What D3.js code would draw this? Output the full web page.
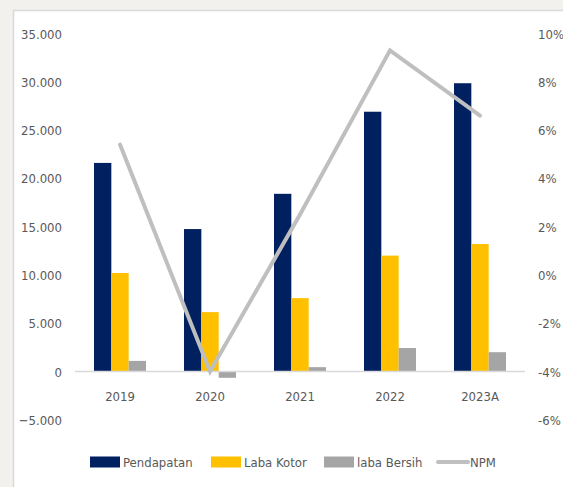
<!DOCTYPE html>
<html>
<head>
<meta charset="utf-8">
<script src="https://cdn.jsdelivr.net/npm/d3@7"></script>
<style>
  body { margin: 0; background: #f2f1ee; }
  #chart { width: 563px; height: 487px; }
  text { font-family: "Liberation Sans Narrow", "DejaVu Sans Condensed", sans-serif; fill: #595959; }
</style>
</head>
<body>
<div id="chart"></div>
<script>
// data
var years = ["2019", "2020", "2021", "2022", "2023A"];
var pendapatan = [21600, 14750, 18400, 26900, 29850];
var labaKotor = [10200, 6150, 7600, 12000, 13200];
var labaBersih = [1100, -650, 450, 2430, 2000];
var npm = [5.4, -4.0, 2.5, 9.3, 6.6];
var leftTicks = [-5000, 0, 5000, 10000, 15000, 20000, 25000, 30000, 35000];
var rightTicks = [-6, -4, -2, 0, 2, 4, 6, 8, 10];

var w = 563;
var h = 487;
var fontSize = "13px";

var svg = d3.select("#chart")
            .append("svg")
            .attr("width", w)
            .attr("height", h);

// white panel with light border
svg.append("rect")
   .attr("x", 13.5)
   .attr("y", 10.5)
   .attr("width", w)
   .attr("height", h)
   .attr("fill", "white")
   .attr("stroke", "#d9d9d9")
   .attr("stroke-width", 1.5);

var x = d3.scaleBand()
          .domain(years)
          .range([75, 525]);

var inner = d3.scaleBand()
              .domain(["p", "k", "b"])
              .range([0, 52]);

var y = d3.scaleLinear()
          .domain([-5000, 35000])
          .range([419.8, 33.5]);

var y2 = d3.scaleLinear()
           .domain([-6, 10])
           .range([419.8, 33.5]);

var fmt = function(d) {
    return d3.format(",")(d).replace(/,/g, ".");
};

// left axis labels
var leftAxis = svg.append("g")
   .attr("transform", "translate(62,0)")
   .call(d3.axisLeft(y).tickValues(leftTicks).tickFormat(fmt).tickSize(0).tickPadding(0));
leftAxis.select(".domain").remove();
leftAxis.selectAll("text").style("font-size", fontSize).attr("dy", "0.35em");

// right axis labels
var rightAxis = svg.append("g")
   .attr("transform", "translate(538,0)")
   .call(d3.axisRight(y2).tickValues(rightTicks).tickFormat(function(d){ return d + "%"; }).tickSize(0).tickPadding(0));
rightAxis.select(".domain").remove();
rightAxis.selectAll("text").style("font-size", fontSize).attr("dy", "0.35em");

// bars
var series = [
    {key: "p", values: pendapatan, color: "#002060"},
    {key: "k", values: labaKotor, color: "#ffc000"},
    {key: "b", values: labaBersih, color: "#a5a5a5"}
];

series.forEach(function(s) {
    svg.append("g")
       .selectAll("rect")
       .data(s.values)
       .enter()
       .append("rect")
       .attr("x", function(d, i) {
           return x(years[i]) + (x.bandwidth() - 52) / 2 + inner(s.key);
       })
       .attr("y", function(d) { return y(Math.max(0, d)); })
       .attr("width", inner.bandwidth())
       .attr("height", function(d) { return Math.abs(y(d) - y(0)); })
       .attr("fill", s.color);
});

// zero line
svg.append("line")
   .attr("x1", 75)
   .attr("x2", 525)
   .attr("y1", y(0))
   .attr("y2", y(0))
   .attr("stroke", "#d9d9d9")
   .attr("stroke-width", 1.5);

// category labels
svg.append("g")
   .attr("transform", "translate(0," + (y(0) + 25) + ")")
   .call(d3.axisBottom(x).tickSize(0).tickPadding(0))
   .call(function(g) { g.select(".domain").remove(); })
   .selectAll("text")
   .style("font-size", fontSize)
   .attr("dy", "0.35em");

// NPM line
var line = d3.line()
             .x(function(d, i) { return x(years[i]) + x.bandwidth() / 2; })
             .y(function(d) { return y2(d); });

svg.append("path")
   .datum(npm)
   .attr("d", line)
   .attr("fill", "none")
   .attr("stroke", "#bfbfbf")
   .attr("stroke-width", 4)
   .attr("stroke-linecap", "round");

// legend
var legend = [
    {name: "Pendapatan", color: "#002060", x: 90, type: "rect"},
    {name: "Laba Kotor", color: "#ffc000", x: 211, type: "rect"},
    {name: "laba Bersih", color: "#a5a5a5", x: 324, type: "rect"},
    {name: "NPM", color: "#bfbfbf", x: 437, type: "line"}
];
var ly = 462;
legend.forEach(function(l) {
    if (l.type === "rect") {
        svg.append("rect")
           .attr("x", l.x).attr("y", ly - 5.5)
           .attr("width", 30).attr("height", 11)
           .attr("fill", l.color);
    } else {
        svg.append("line")
           .attr("x1", l.x + 1).attr("x2", l.x + 31)
           .attr("y1", ly).attr("y2", ly)
           .attr("stroke", l.color).attr("stroke-width", 4)
           .attr("stroke-linecap", "round");
    }
    svg.append("text")
       .attr("x", l.x + 33)
       .attr("y", ly)
       .attr("dy", "0.35em")
       .style("font-size", fontSize)
       .text(l.name);
});
</script>
</body>
</html>
